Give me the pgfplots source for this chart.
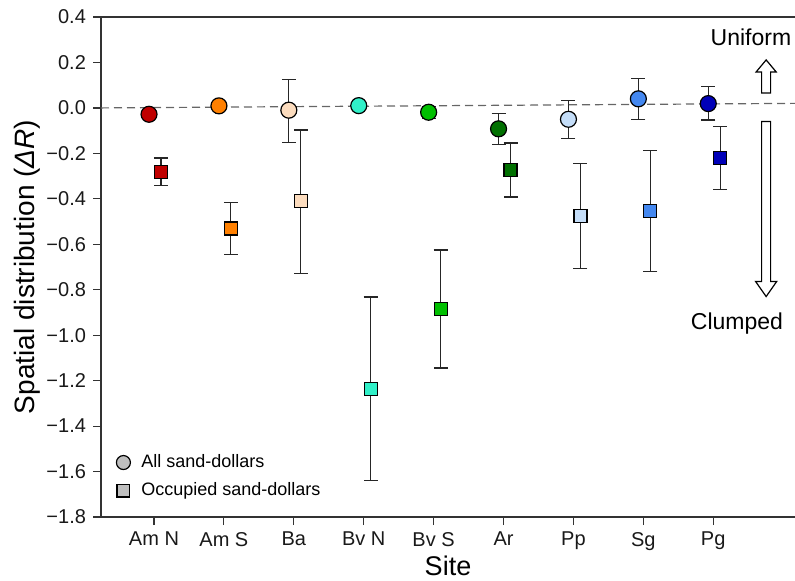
\documentclass[border=0pt]{standalone}
\usepackage{fontspec}
\setmainfont{Liberation Sans}
\usepackage{pgfplots}
\usepackage{pgfplotstable}
\pgfplotsset{compat=1.18}

\definecolor{cAmN}{HTML}{C00000}
\definecolor{cAmS}{HTML}{FF8000}
\definecolor{cBa}{HTML}{FCDCBE}
\definecolor{cBvN}{HTML}{30F0C8}
\definecolor{cBvS}{HTML}{00C000}
\definecolor{cAr}{HTML}{007000}
\definecolor{cPp}{HTML}{C4DDF8}
\definecolor{cSg}{HTML}{4488F0}
\definecolor{cPg}{HTML}{0000B8}
\definecolor{axisgray}{HTML}{333333}

% all sand-dollars (circles), x shifted left of the site tick
\pgfplotstableread{
x       y       ep     em     c
-0.071  -0.028  0      0      AmN
0.929   0.009   0      0      AmS
1.929   -0.010  0.136  0.141  Ba
2.929   0.010   0      0      BvN
3.929   -0.019  0.026  0.026  BvS
4.929   -0.092  0.067  0.068  Ar
5.929   -0.050  0.082  0.085  Pp
6.929   0.040   0.089  0.091  Sg
7.929   0.019   0.075  0.072  Pg
}\alltab

% occupied sand-dollars (squares), x shifted right of the site tick
\pgfplotstableread{
x       y       ep     em     c
0.100   -0.282  0.062  0.058  AmN
1.100   -0.531  0.116  0.114  AmS
2.100   -0.410  0.313  0.319  Ba
3.100   -1.238  0.406  0.403  BvN
4.100   -0.884  0.259  0.260  BvS
5.100   -0.273  0.119  0.119  Ar
6.100   -0.475  0.229  0.232  Pp
7.100   -0.452  0.266  0.267  Sg
8.100   -0.220  0.138  0.138  Pg
}\occtab

\pgfplotsset{
  siteclasses/.style={
    scatter, only marks, scatter src=explicit symbolic,
    scatter/classes={
      AmN={fill=cAmN,draw=black}, AmS={fill=cAmS,draw=black},
      Ba={fill=cBa,draw=black}, BvN={fill=cBvN,draw=black},
      BvS={fill=cBvS,draw=black}, Ar={fill=cAr,draw=black},
      Pp={fill=cPp,draw=black}, Sg={fill=cSg,draw=black},
      Pg={fill=cPg,draw=black}},
    mark options={line width=0.6pt},
    error bars/y dir=both, error bars/y explicit,
    error bars/error bar style={black!85, line width=0.6pt},
    error bars/error mark options={black!85, rotate=90, mark size=3.5pt, line width=0.6pt},
  },
}

\begin{document}
\begin{tikzpicture}
\useasboundingbox (-50.5pt,-31.5pt) rectangle (347pt,258.5pt);
\begin{axis}[
    width=347pt, height=250pt, scale only axis,
    xmin=-0.758, xmax=9.17,
    ymin=-1.8, ymax=0.4,
    axis x line*=box, axis y line*=left,
    axis line style={axisgray, line width=0.75pt},
    every tick/.style={axisgray, line width=0.6pt},
    tick align=outside, major tick length=4pt,
    xtick pos=bottom, ytick pos=left,
    xtick={0,1,...,8},
    xticklabels={Am N, Am S, Ba, Bv N, Bv S, Ar, Pp, Sg, Pg},
    ytick={-1.8,-1.6,-1.4,-1.2,-1.0,-0.8,-0.6,-0.4,-0.2,0,0.2,0.4},
    yticklabels={−1.8,−1.6,−1.4,−1.2,−1.0,−0.8,−0.6,−0.4,−0.2,0.0,0.2,0.4},
    ticklabel style={font=\fontsize{10}{12}\selectfont, text=black!90},
    xlabel={Site},
    ylabel={Spatial distribution (\textit{ΔR})},
    every axis x label/.style={at={(axis description cs:0.5,-0.098)}, anchor=center,
      font=\fontsize{13.5}{16}\selectfont},
    every axis y label/.style={at={(axis description cs:-0.1066,0.5)}, rotate=90, anchor=center,
      font=\fontsize{14}{17}\selectfont},
    legend style={at={(axis description cs:0.013,0.02)}, anchor=south west,
      draw=none, fill=none, font=\fontsize{9}{11}\selectfont,
      row sep=2pt},
    legend cell align=left,
    clip=false,
]
\addplot[siteclasses, mark=*, mark size=4pt, forget plot]
  table[x=x, y=y, y error plus=ep, y error minus=em, meta=c] {\alltab};
\addplot[siteclasses, mark=square*, mark size=3.25pt, forget plot]
  table[x=x, y=y, y error plus=ep, y error minus=em, meta=c] {\occtab};
\addplot[gray!80!black, dashed, dash pattern=on 4pt off 2.5pt, line width=0.6pt, forget plot]
  coordinates {(-0.758,0) (9.17,0.02)};

\addlegendimage{only marks, mark=*, mark size=3.5pt, mark options={fill=gray!50, draw=black, line width=0.6pt}}
\addlegendentry{\hspace*{3.5pt}All sand-dollars}
\addlegendimage{only marks, mark=square*, mark size=3.2pt, mark options={fill=gray!50, draw=black, line width=0.6pt}}
\addlegendentry{\hspace*{3.5pt}Occupied sand-dollars}

% Uniform / Clumped block arrows
\draw[black, line width=0.6pt, fill=white] ([xshift=-2.25pt]axis cs:8.757,0.066)
  -- ++(0pt,10.5pt) -- ++(-2.75pt,0pt) -- ++(5pt,6pt) -- ++(5pt,-6pt)
  -- ++(-2.75pt,0pt) -- ++(0pt,-10.5pt) -- cycle;
\draw[black, line width=0.6pt, fill=white] ([xshift=-2.25pt]axis cs:8.757,-0.060)
  -- ++(0pt,-80pt) -- ++(-3pt,0pt) -- ++(5.25pt,-7.5pt) -- ++(5.25pt,7.5pt)
  -- ++(-3pt,0pt) -- ++(0pt,80pt) -- cycle;
\node[font=\fontsize{11.5}{13}\selectfont] at (axis cs:8.54,0.312) {Uniform};
\node[font=\fontsize{11.5}{13}\selectfont] at (axis cs:8.34,-0.95) {Clumped};
\end{axis}
\end{tikzpicture}
\end{document}
